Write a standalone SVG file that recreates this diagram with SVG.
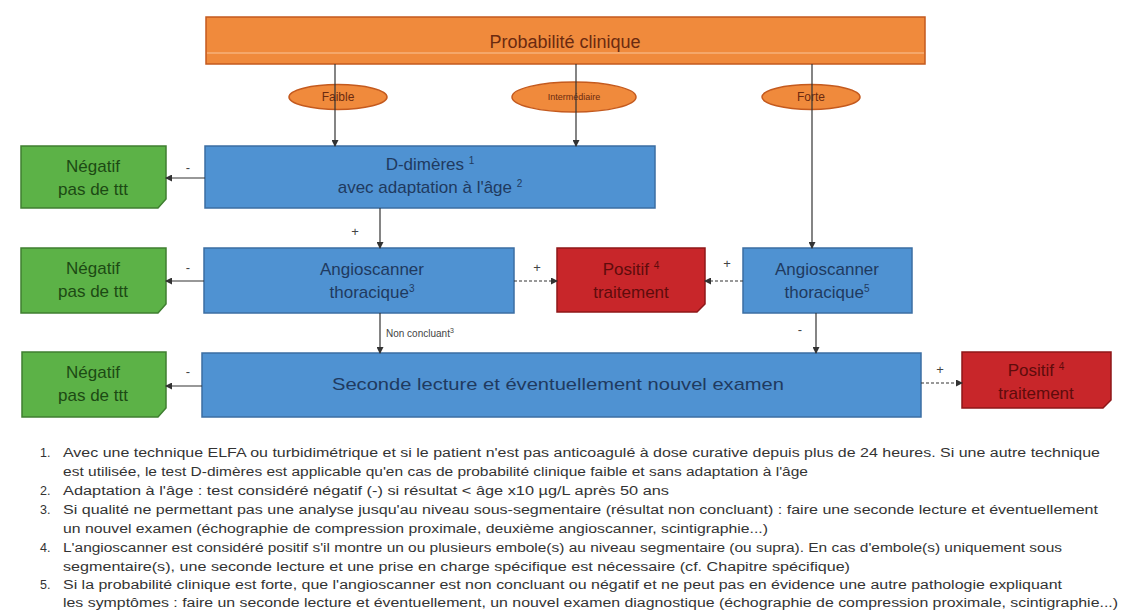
<svg xmlns="http://www.w3.org/2000/svg" width="1125" height="612" viewBox="0 0 1125 612">
<defs>
<style>
.bg{fill:#ffffff}
.orange{fill:#f08a3c;stroke:#c45a1e;stroke-width:1.5}
.blue{fill:#4f92d2;stroke:#3b6ea3;stroke-width:1.5}
.green{fill:#5cb247;stroke:#3f7f30;stroke-width:1.5}
.red{fill:#c8262a;stroke:#8e1719;stroke-width:1.5}
text{font-family:"Liberation Sans",Arial,sans-serif}
.tO{fill:#6b2a10;font-size:18px;text-anchor:middle}
.tE{fill:#6b2a10;text-anchor:middle}
.tB{fill:#1f3a60;font-size:17px;text-anchor:middle}
.tG{fill:#1c4a14;font-size:17px;text-anchor:middle}
.tR{fill:#5e0c0c;font-size:17px;text-anchor:middle}
.lab{fill:#444;font-size:13px;text-anchor:middle}
.note{fill:#333;font-size:12.5px}
.c{stroke:#333;stroke-width:1.2;fill:none}
.d{stroke:#333;stroke-width:1.2;fill:none;stroke-dasharray:3,2}
</style>
<marker id="ah" markerWidth="7" markerHeight="7" refX="6" refY="3.5" orient="auto" markerUnits="userSpaceOnUse">
<path d="M0,0 L7,3.5 L0,7 z" fill="#333"/>
</marker>
</defs>
<rect class="bg" x="0" y="0" width="1125" height="612"/>

<g id="probabilite">
<rect class="orange" x="206" y="17" width="719" height="47"/>
<line x1="207" y1="53" x2="924" y2="53" stroke="#f7b07a" stroke-width="1.5"/>
<text class="tO" x="565" y="48">Probabilité clinique</text>
</g>
<g id="faible">
<ellipse class="orange" cx="338" cy="97" rx="49" ry="12.5"/>
<text class="tE" x="338" y="101" font-size="12">Faible</text>
</g>
<g id="intermediaire">
<ellipse class="orange" cx="574" cy="97" rx="62" ry="15"/>
<text class="tE" x="574" y="100" font-size="9">Intermédiaire</text>
</g>
<g id="forte">
<ellipse class="orange" cx="811" cy="97" rx="49" ry="12.5"/>
<text class="tE" x="811" y="101" font-size="12">Forte</text>
</g>

<g id="ddimeres">
<rect class="blue" x="205" y="146" width="450" height="62"/>
<text class="tB" x="430" y="170">D-dimères <tspan font-size="10" dy="-6">1</tspan></text>
<text class="tB" x="430" y="193">avec adaptation à l'âge <tspan font-size="10" dy="-6">2</tspan></text>
</g>
<g id="negatif1">
<path class="green" d="M21,146 H166 V199 L158,208 H21 Z"/>
<text class="tG" x="93" y="172">Négatif</text>
<text class="tG" x="93" y="195">pas de ttt</text>
</g>

<g id="angio1">
<rect class="blue" x="204" y="248" width="310" height="65"/>
<text class="tB" x="372" y="275">Angioscanner</text>
<text class="tB" x="372" y="298">thoracique<tspan font-size="10" dy="-6">3</tspan></text>
</g>
<g id="negatif2">
<path class="green" d="M21,248 H166 V304 L158,313 H21 Z"/>
<text class="tG" x="93" y="274">Négatif</text>
<text class="tG" x="93" y="297">pas de ttt</text>
</g>
<g id="positif1">
<path class="red" d="M557,248 H705 V304 L697,312 H557 Z"/>
<text class="tR" x="631" y="275">Positif <tspan font-size="10" dy="-6">4</tspan></text>
<text class="tR" x="631" y="298">traitement</text>
</g>
<g id="angio2">
<rect class="blue" x="743" y="248" width="169" height="65"/>
<text class="tB" x="827" y="275">Angioscanner</text>
<text class="tB" x="827" y="298">thoracique<tspan font-size="10" dy="-6">5</tspan></text>
</g>

<g id="seconde">
<rect class="blue" x="202" y="353" width="719" height="64"/>
<text class="tB" x="558" y="390" font-size="18" textLength="452" lengthAdjust="spacingAndGlyphs">Seconde lecture et éventuellement nouvel examen</text>
</g>
<g id="negatif3">
<path class="green" d="M22,352 H166 V408 L158,417 H22 Z"/>
<text class="tG" x="93" y="378">Négatif</text>
<text class="tG" x="93" y="401">pas de ttt</text>
</g>
<g id="positif2">
<path class="red" d="M962,352 H1111 V400 L1103,408 H962 Z"/>
<text class="tR" x="1036" y="376">Positif <tspan font-size="10" dy="-6">4</tspan></text>
<text class="tR" x="1036" y="399">traitement</text>
</g>

<g id="connectors">
<line class="c" x1="335" y1="64" x2="335" y2="146" marker-end="url(#ah)"/>
<line class="c" x1="576" y1="64" x2="576" y2="146" marker-end="url(#ah)"/>
<line class="c" x1="812" y1="64" x2="812" y2="248" marker-end="url(#ah)"/>
<line class="c" x1="380" y1="208" x2="380" y2="248" marker-end="url(#ah)"/>
<line class="c" x1="205" y1="178" x2="166" y2="178" marker-end="url(#ah)"/>
<line class="c" x1="204" y1="281" x2="166" y2="281" marker-end="url(#ah)"/>
<line class="d" x1="514" y1="281" x2="557" y2="281" marker-end="url(#ah)"/>
<line class="d" x1="743" y1="281" x2="705" y2="281" marker-end="url(#ah)"/>
<line class="c" x1="380" y1="313" x2="380" y2="353" marker-end="url(#ah)"/>
<line class="c" x1="816" y1="313" x2="816" y2="353" marker-end="url(#ah)"/>
<line class="c" x1="202" y1="386" x2="166" y2="386" marker-end="url(#ah)"/>
<line class="d" x1="921" y1="383" x2="962" y2="383" marker-end="url(#ah)"/>
<text class="lab" x="188" y="172">-</text>
<text class="lab" x="355" y="236">+</text>
<text class="lab" x="188" y="272">-</text>
<text class="lab" x="537" y="272">+</text>
<text class="lab" x="727" y="268">+</text>
<text x="386" y="337" fill="#444" font-size="10" font-family="Liberation Sans, Arial, sans-serif">Non concluant<tspan font-size="7" dy="-4">3</tspan></text>
<text class="lab" x="800" y="334">-</text>
<text class="lab" x="188" y="376">-</text>
<text class="lab" x="940" y="374">+</text>
</g>

<g id="notes">
<text class="note" x="40" y="457">1.</text>
<text class="note" x="63" y="457" textLength="1037" lengthAdjust="spacingAndGlyphs">Avec une technique ELFA ou turbidimétrique et si le patient n'est pas anticoagulé à dose curative depuis plus de 24 heures. Si une autre technique</text>
<text class="note" x="63" y="476" textLength="745" lengthAdjust="spacingAndGlyphs">est utilisée, le test D-dimères est applicable qu'en cas de probabilité clinique faible et sans adaptation à l'âge</text>
<text class="note" x="40" y="495">2.</text>
<text class="note" x="63" y="495" textLength="606" lengthAdjust="spacingAndGlyphs">Adaptation à l'âge : test considéré négatif (-) si résultat &lt; âge x10 µg/L après 50 ans</text>
<text class="note" x="40" y="514">3.</text>
<text class="note" x="63" y="514" textLength="1035" lengthAdjust="spacingAndGlyphs">Si qualité ne permettant pas une analyse jusqu'au niveau sous-segmentaire (résultat non concluant) : faire une seconde lecture et éventuellement</text>
<text class="note" x="63" y="533" textLength="705" lengthAdjust="spacingAndGlyphs">un nouvel examen (échographie de compression proximale, deuxième angioscanner, scintigraphie...)</text>
<text class="note" x="40" y="552">4.</text>
<text class="note" x="63" y="552" textLength="999" lengthAdjust="spacingAndGlyphs">L'angioscanner est considéré positif s'il montre un ou plusieurs embole(s) au niveau segmentaire (ou supra). En cas d'embole(s) uniquement sous</text>
<text class="note" x="63" y="571" textLength="787" lengthAdjust="spacingAndGlyphs">segmentaire(s), une seconde lecture et une prise en charge spécifique est nécessaire (cf. Chapitre spécifique)</text>
<text class="note" x="40" y="589">5.</text>
<text class="note" x="63" y="589" textLength="999" lengthAdjust="spacingAndGlyphs">Si la probabilité clinique est forte, que l'angioscanner est non concluant ou négatif et ne peut pas en évidence une autre pathologie expliquant</text>
<text class="note" x="63" y="607" textLength="1055" lengthAdjust="spacingAndGlyphs">les symptômes : faire un seconde lecture et éventuellement, un nouvel examen diagnostique (échographie de compression proximale, scintigraphie...)</text>
</g>
</svg>
